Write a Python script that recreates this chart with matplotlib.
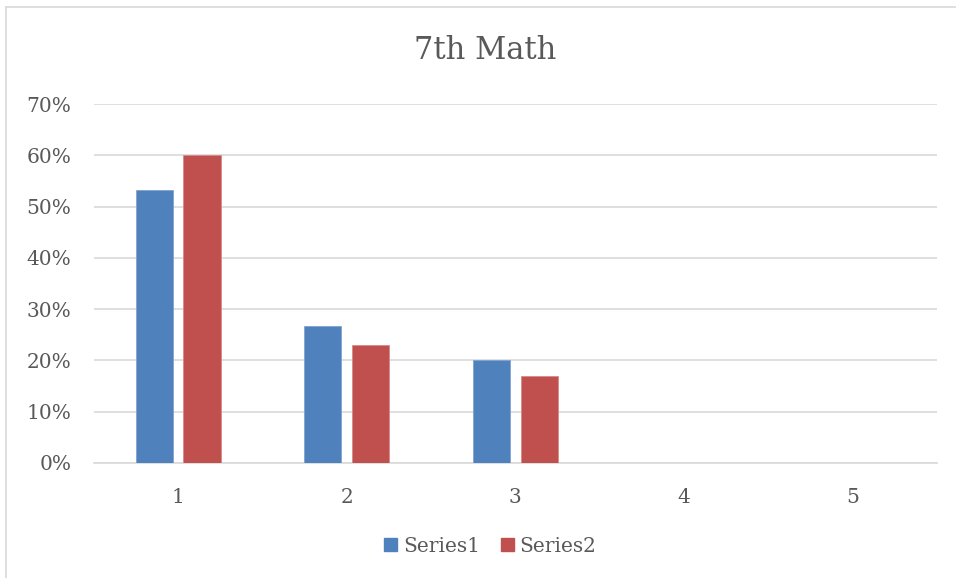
import matplotlib.pyplot as plt
from matplotlib.lines import Line2D
from matplotlib.patches import Patch
from matplotlib.ticker import PercentFormatter
import numpy as np

# Scores per question
categories = ['1', '2', '3', '4', '5']
series1 = [0.533, 0.267, 0.20, 0.0, 0.0]
series2 = [0.60, 0.23, 0.17, 0.0, 0.0]

blue = '#4F81BD'
red = '#C0504D'
text_gray = '#595959'
grid_gray = '#D9D9D9'

plt.rcParams['font.family'] = ['DejaVu Serif']

fig = plt.figure(figsize=(9.56, 5.78), dpi=100)
ax = fig.add_axes([0.098, 0.199, 0.882, 0.621])

x = np.arange(len(categories))
width = 0.22
offset = 0.142
ax.bar(x - offset, series1, width, color=blue, edgecolor='#7FA3D1', linewidth=0.6, zorder=3)
ax.bar(x + offset, series2, width, color=red, edgecolor='#D98A88', linewidth=0.6, zorder=3)

ax.set_xlim(-0.5, len(categories) - 0.5)
ax.set_ylim(0, 0.7)
ax.set_yticks(np.arange(0, 0.71, 0.1))
ax.yaxis.set_major_formatter(PercentFormatter(1.0, decimals=0))
ax.set_xticks(x)
ax.set_xticklabels(categories)

ax.grid(axis='y', color=grid_gray, linewidth=1.2, zorder=0)
for side in ['top', 'right', 'left']:
    ax.spines[side].set_visible(False)
ax.spines['bottom'].set_color(grid_gray)
ax.spines['bottom'].set_linewidth(1.2)
ax.tick_params(axis='both', length=0, labelsize=14.5, colors=text_gray)
ax.tick_params(axis='y', pad=16)
ax.tick_params(axis='x', pad=18)

fig.text(0.508, 0.912, '7th Math', ha='center', va='center', fontsize=22, color=text_gray)

handles = [Patch(color=blue, label='Series1'), Patch(color=red, label='Series2')]
fig.legend(handles=handles, loc='center', bbox_to_anchor=(0.513, 0.055), ncol=2,
           frameon=False, fontsize=14.5, labelcolor=text_gray, handlelength=0.65,
           handleheight=0.65, handletextpad=0.3, columnspacing=1.0)

# Chart frame on the top and left edges
fig.add_artist(Line2D([0.006, 1.0], [0.988, 0.988], color='#D9D9D9', linewidth=1.2))
fig.add_artist(Line2D([0.006, 0.006], [0.0, 0.988], color='#D9D9D9', linewidth=1.2))

fig.savefig('out.png', dpi=100, facecolor='white')
